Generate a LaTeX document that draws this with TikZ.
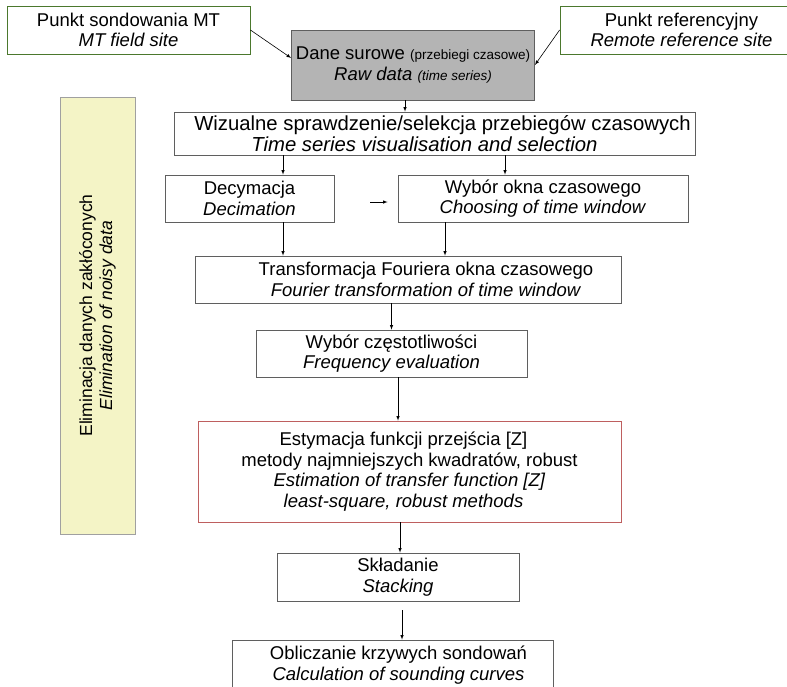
\documentclass[tikz,border=0pt]{standalone}
\usepackage{fontspec}
\setmainfont{Liberation Sans}
\usepackage{tikz}

\definecolor{boxgray}{RGB}{95,95,95}
\definecolor{rawgray}{RGB}{180,180,180}
\definecolor{sitegreen}{RGB}{75,120,45}
\definecolor{estred}{RGB}{190,95,95}
\definecolor{sideyellow}{RGB}{244,244,198}
\definecolor{sidegray}{RGB}{160,160,160}

\begin{document}
\begin{tikzpicture}[x=1pt,y=-1pt,
    box/.style={draw=boxgray,line width=0.8pt,fill=white,align=center,inner sep=0pt,
      font=\fontsize{18.5}{20.5}\selectfont},
    sitebox/.style={box,draw=sitegreen},
    rawbox/.style={box,fill=rawgray},
    redbox/.style={box,draw=estred},
    sidebox/.style={box,fill=sideyellow,draw=sidegray,rotate=90,
      font=\fontsize{17.5}{20}\selectfont},
    arr/.style={-latex,line width=0.6pt}]
    \useasboundingbox (0,0) rectangle (787,686);
    \fill[white] (0,0) rectangle (787,686);

    \node[sitebox,minimum width=243pt,minimum height=48pt] (field) at (128.5,30)
      {Punkt sondowania MT\\\textit{MT field site}};
    \node[rawbox,minimum width=243pt,minimum height=70pt] (raw) at (413,65)
      {Dane surowe {\fontsize{13.5}{15}\selectfont(przebiegi czasowe)}\\
       \textit{Raw data} {\fontsize{13.5}{15}\selectfont\itshape(time series)}};
    \node[sitebox,minimum width=243pt,minimum height=48pt] (remote) at (681.5,30)
      {Punkt referencyjny\\\textit{Remote reference site}};

    \node[sidebox,minimum width=437pt,minimum height=75pt] (noise) at (97.5,315.5)
      {Eliminacja danych zakłóconych\\\textit{Elimination of noisy data}};

    \node[box,minimum width=521pt,minimum height=43pt,font=\fontsize{20.3}{21}\selectfont] (visual) at (434.5,133.5)
      {\hspace*{16pt}Wizualne sprawdzenie/selekcja przebiegów czasowych\\\textit{Time series visualisation and selection}\hspace*{20pt}};
    \node[box,minimum width=169pt,minimum height=47pt] (decim) at (249.5,198.5)
      {Decymacja\\\textit{Decimation}};
    \node[box,minimum width=290pt,minimum height=47pt] (window) at (543,198.5)
      {Wybór okna czasowego\\\textit{Choosing of time window}};
    \node[box,minimum width=426pt,minimum height=47pt] (fourier) at (408,279.5)
      {\hspace*{36pt}Transformacja Fouriera okna czasowego\\\hspace*{36pt}\textit{Fourier transformation of time window}};
    \node[box,minimum width=271pt,minimum height=47pt] (freq) at (391.5,353.5)
      {Wybór częstotliwości\\\textit{Frequency evaluation}};
    \node[redbox,minimum width=423pt,minimum height=101pt] (estim) at (409.5,471.5)
      {Estymacja funkcji przejścia [Z]\hspace*{12pt}\\metody najmniejszych kwadratów, robust\hspace*{12pt}\\
       \textit{Estimation of transfer function [Z]}\hspace*{12pt}\\\textit{least-square, robust methods}\hspace*{12pt}};
    \node[box,minimum width=242pt,minimum height=48pt] (stack) at (398,577)
      {Składanie\\\textit{Stacking}};
    \node[box,minimum width=321pt,minimum height=50pt] (curves) at (392.5,665)
      {\hspace*{12pt}Obliczanie krzywych sondowań\\\hspace*{12pt}\textit{Calculation of sounding curves}};

    \draw[arr] (field.east) -- ([yshift=7pt]raw.west);
    \draw[arr] (remote.west) -- (raw.east);
    \draw[arr] ([xshift=-8pt]raw.south) -- ([xshift=-8pt]raw.south |- visual.north);
    \draw[arr] ([xshift=33.5pt]decim.north |- visual.south) -- ([xshift=33.5pt]decim.north);
    \draw[arr] ([xshift=-38pt]window.north |- visual.south) -- ([xshift=-38pt]window.north);
    \draw[arr] ([xshift=36pt,yshift=-3.5pt]decim.east) -- ([xshift=-10pt,yshift=-3.5pt]window.west);
    \draw[arr] ([xshift=33.5pt]decim.south) -- ([xshift=33.5pt]decim.south |- fourier.north);
    \draw[arr] ([xshift=-98pt]window.south) -- ([xshift=-98pt]window.south |- fourier.north);
    \draw[arr] (freq.north |- fourier.south) -- (freq.north);
    \draw[arr] ([xshift=6.5pt]freq.south) -- ([xshift=6.5pt]freq.south |- estim.north);
    \draw[arr] ([xshift=2pt]stack.north |- estim.south) -- ([xshift=2pt]stack.north);
    \draw[arr] ([xshift=4pt,yshift=-9pt]stack.south) -- ([xshift=4pt]stack.south |- curves.north);
\end{tikzpicture}
\end{document}
